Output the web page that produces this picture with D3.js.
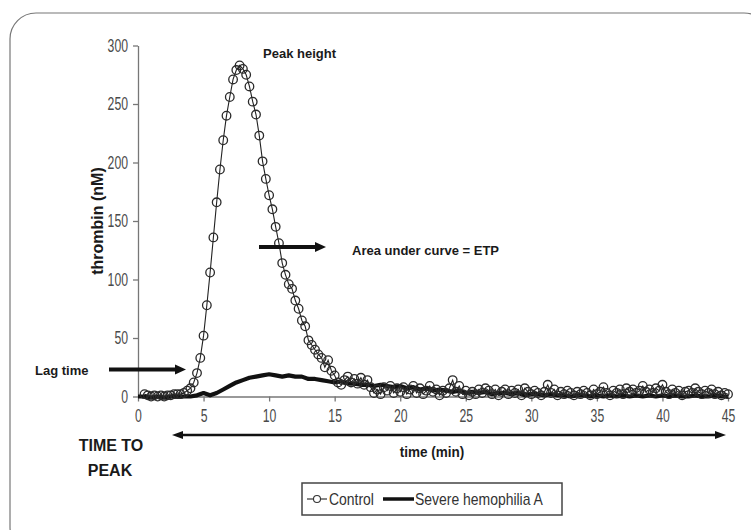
<!DOCTYPE html>
<html>
<head>
<meta charset="utf-8">
<script src="https://cdn.jsdelivr.net/npm/d3@7"></script>
<style>
  body { margin: 0; background: #fff; }
  svg { display: block; }
  .tick text { font-family: "Liberation Sans", Arial, sans-serif; font-size: 18px; fill: #4a4a4a; }
  .bold { font-family: "Liberation Sans", Arial, sans-serif; font-weight: bold; fill: #1a1a1a; }
  .leg { font-family: "Liberation Sans", Arial, sans-serif; font-size: 17px; fill: #333; }
</style>
</head>
<body>
<div id="vizHolder"></div>
<script>
var	width = 751,
		height = 530;

// tick labels
var xTicks = [0, 5, 10, 15, 20, 25, 30, 35, 40, 45],
		yTicks = [0, 50, 100, 150, 200, 250, 300];

// Control: one reading every 0.25 min starting at 0.5 min
var controlStart = 0.5,
		controlStep = 0.25;
var controlValues = [
	2, 1, 0, 1, 0, 1, 0, 1, 1, 2, 2, 2, 3, 5,          // 0.5 - 3.75
	7, 12, 20, 33, 52, 78, 106, 136, 166, 194, 219, 240, // 4.0 - 6.75
	256, 271, 279, 283, 280, 275, 265, 252, 241, 223, 201, 186, // 7.0 - 9.75
	172, 160, 145, 131, 114, 104, 96, 92, 82, 75, 65, 60, // 10.0 - 12.75
	48, 44, 40, 36, 33, 25, 31, 22, 18, 12, 10, 14,     // 13.0 - 15.75
	17, 12, 15, 11, 16, 10, 14, 8, 3, 6, 2, 8,          // 16.0 - 18.75
	5, 9, 3, 7, 4, 8, 2, 6, 9, 3, 7, 2,                 // 19.0 - 21.75
	5, 9, 4, 6, 1, 5, 3, 7, 14, 4, 9, 2,                // 22.0 - 24.75
	5, 1, 4, 2, 6, 3, 7, 5, 2, 6, 1, 4,                 // 25.0 - 27.75
	6, 2, 5, 3, 6, 1, 7, 4, 2, 5, 3, 1,                 // 28.0 - 30.75
	4, 10, 3, 6, 1, 4, 2, 5, 3, 1, 4, 2,                // 31.0 - 33.75
	5, 3, 1, 6, 2, 4, 8, 3, 1, 5, 3, 6,                 // 34.0 - 36.75
	2, 7, 4, 6, 3, 5, 9, 4, 6, 3, 7, 5,                 // 37.0 - 39.75
	10, 4, 2, 6, 3, 5, 1, 4, 5, 3, 7, 4,                // 40.0 - 42.75
	2, 5, 3, 6, 2, 4, 1, 3, 2                           // 43.0 - 45.0
];

// Severe hemophilia A: one reading every 0.5 min from 0
var hemoStart = 0,
		hemoStep = 0.5;
var hemoValues = [
	0, 0, -1, 0, -1, 0, 0, 0, 0, 1,       // 0 - 4.5
	3, 1, 3, 6, 9, 12, 14, 16, 17, 18,    // 5 - 9.5
	19, 18, 17, 18, 17, 17, 15, 15, 14, 13, // 10 - 14.5
	12, 13, 11, 11, 10, 10, 9, 10, 9, 8,  // 15 - 19.5
	9, 7, 8, 6, 7, 5, 6, 5, 4, 5,         // 20 - 24.5
	3, 4, 3, 4, 2, 3, 3, 2, 3, 1,         // 25 - 29.5
	2, 2, 1, 2, 1, 1, 0, 1, 1, 0,         // 30 - 34.5
	1, 0, 1, 0, 1, 0, 1, 0, 1, 0,         // 35 - 39.5
	1, 0, 1, 0, 0, 1, 0, 0, 1, 0, 0       // 40 - 45
];

var seriesNames = ['Control', 'Severe hemophilia A'];

var controlData = controlValues.map(function(v, i) { return {t: controlStart + i * controlStep, v: v}; }),
		hemoData = hemoValues.map(function(v, i) { return {t: hemoStart + i * hemoStep, v: v}; });

var xScale = d3.scaleLinear().domain([0, 45]).range([138, 728]);
var yScale = d3.scaleLinear().domain([0, 300]).range([396.5, 45.5]);

var svg = d3.select('#vizHolder')
			.append('svg')
			.attr('width', width)
			.attr('height', height);

// squeeze a text to look like the narrow font of the original
function narrow(sel, k) {
	sel.each(function() {
		var w = this.getComputedTextLength();
		d3.select(this).attr('textLength', w * k).attr('lengthAdjust', 'spacingAndGlyphs');
	});
}

// rounded frame
svg.append('rect')
	.attr('x', 10).attr('y', 13)
	.attr('width', 760).attr('height', 540)
	.attr('rx', 26).attr('ry', 26)
	.attr('fill', 'none')
	.attr('stroke', '#777')
	.attr('stroke-width', 1.2);

// axes
var yAxis = svg.append('g')
	.attr('transform', 'translate(138,0)')
	.call(d3.axisLeft(yScale).tickValues(yTicks).tickSize(5).tickPadding(5).tickSizeOuter(0));

var xAxis = svg.append('g')
	.attr('transform', 'translate(0,396.5)')
	.call(d3.axisBottom(xScale).tickValues(xTicks).tickSize(5).tickPadding(8).tickSizeOuter(0));

svg.selectAll('.domain, .tick line').attr('stroke', '#777').attr('stroke-width', 1.3);
narrow(svg.selectAll('.tick text'), 0.68);

// hemophilia thick line
var line = d3.line()
	.x(function(d) { return xScale(d.t); })
	.y(function(d) { return yScale(d.v); });

svg.append('path')
	.datum(hemoData)
	.attr('d', line)
	.attr('fill', 'none')
	.attr('stroke', '#111')
	.attr('stroke-width', 4.2)
	.attr('stroke-linejoin', 'round');

// control thin line with open circles
svg.append('path')
	.datum(controlData)
	.attr('d', line)
	.attr('fill', 'none')
	.attr('stroke', '#222')
	.attr('stroke-width', 1.1);

svg.append('g').selectAll('circle')
	.data(controlData)
	.enter()
	.append('circle')
	.attr('cx', function(d) { return xScale(d.t); })
	.attr('cy', function(d) { return yScale(d.v); })
	.attr('r', 4.3)
	.attr('fill', 'none')
	.attr('stroke', '#2a2a2a')
	.attr('stroke-width', 1.3);

// axis titles
svg.append('text')
	.attr('class', 'bold')
	.attr('transform', 'translate(103,221) rotate(-90)')
	.attr('text-anchor', 'middle')
	.style('font-size', '16px')
	.text('thrombin (nM)');

svg.append('text')
	.attr('class', 'bold')
	.attr('x', 432).attr('y', 457)
	.attr('text-anchor', 'middle')
	.style('font-size', '15px')
	.text('time (min)')
	.call(narrow, 0.9);

// annotations
function arrow(x1, x2, y, both) {
	var g = svg.append('g');
	g.append('line')
		.attr('x1', both ? x1 + 8 : x1).attr('x2', x2 - 8)
		.attr('y1', y).attr('y2', y)
		.attr('stroke', '#111')
		.attr('stroke-width', both ? 2.5 : 4);
	var h = both ? 4 : 5;
	g.append('path')
		.attr('d', 'M' + x2 + ',' + y + 'L' + (x2 - 11) + ',' + (y - h) + 'L' + (x2 - 11) + ',' + (y + h) + 'Z')
		.attr('fill', '#111');
	if (both) {
		g.append('path')
			.attr('d', 'M' + x1 + ',' + y + 'L' + (x1 + 11) + ',' + (y - h) + 'L' + (x1 + 11) + ',' + (y + h) + 'Z')
			.attr('fill', '#111');
	}
}

arrow(259, 326, 247, false);
arrow(109, 186, 369.5, false);
arrow(172, 726, 435, true);

svg.append('text').attr('class', 'bold').attr('x', 263).attr('y', 58)
	.style('font-size', '13px').text('Peak height');
svg.append('text').attr('class', 'bold').attr('x', 352).attr('y', 255)
	.style('font-size', '13px').text('Area under curve = ETP');
svg.append('text').attr('class', 'bold').attr('x', 35).attr('y', 375)
	.style('font-size', '13px').text('Lag time');
svg.append('text').attr('class', 'bold').attr('x', 111).attr('y', 451)
	.attr('text-anchor', 'middle')
	.style('font-size', '16px').text('TIME TO');
svg.append('text').attr('class', 'bold').attr('x', 110).attr('y', 476)
	.attr('text-anchor', 'middle')
	.style('font-size', '16px').text('PEAK');

// legend
var legend = svg.append('g').attr('transform', 'translate(302,483)');
legend.append('rect')
	.attr('width', 260).attr('height', 32)
	.attr('fill', '#fff')
	.attr('stroke', '#444')
	.attr('stroke-width', 1.5);
legend.append('line')
	.attr('x1', 5).attr('x2', 25).attr('y1', 16).attr('y2', 16)
	.attr('stroke', '#222').attr('stroke-width', 1.1);
legend.append('circle')
	.attr('cx', 15).attr('cy', 16).attr('r', 3.5)
	.attr('fill', '#fff').attr('stroke', '#333').attr('stroke-width', 1.1);
legend.append('text').attr('class', 'leg').attr('x', 27).attr('y', 22)
	.text(seriesNames[0]).call(narrow, 0.82);
legend.append('line')
	.attr('x1', 81).attr('x2', 112).attr('y1', 16).attr('y2', 16)
	.attr('stroke', '#111').attr('stroke-width', 3.5);
legend.append('text').attr('class', 'leg').attr('x', 113).attr('y', 22)
	.text(seriesNames[1]).call(narrow, 0.82);
</script>
</body>
</html>
